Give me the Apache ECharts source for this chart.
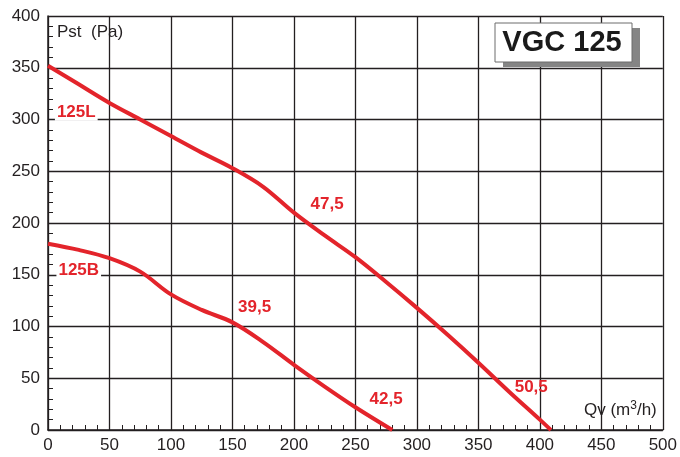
<!DOCTYPE html>
<html>
<head>
<meta charset="utf-8">
<script src="https://cdn.jsdelivr.net/npm/echarts@6/dist/echarts.min.js"></script>
<style>
  html, body { margin: 0; padding: 0; background: #fff; }
  #main { width: 680px; height: 457px; }
</style>
</head>
<body>
<div id="main"></div>
<script>
// curve 125L (flow m3/h, pressure Pa)
var qvL = [0, 25, 50, 75, 100, 125, 150, 175, 200, 225, 250, 275, 300, 325, 350, 375, 400, 409];
var pstL = [352, 334, 316, 300, 284, 268, 253, 235, 210, 188, 167, 143, 118, 92, 65, 37, 10, 0];
// curve 125B
var qvB = [0, 25, 50, 75, 100, 125, 150, 175, 200, 225, 250, 280];
var pstB = [180, 174, 166, 153, 131, 116, 104, 85, 63, 42, 22, 0];
// red annotations: [qv, pst, text, white backing]
var notes = [
  [23, 307, '125L', true],
  [25, 154, '125B', true],
  [227, 218, '47,5', false],
  [168, 119, '39,5', false],
  [275, 30, '42,5', false],
  [393, 41, '50,5', false]
];
var xTicks = [0, 500, 50];
var yTicks = [0, 400, 50];

var red = '#e3242b';
var ink = '#231f20';
var font = 'Liberation Sans, Arial, sans-serif';

function pairs(xs, ys) {
  return xs.map(function (x, i) { return [x, ys[i]]; });
}

var myChart = echarts.init(document.getElementById('main'));

var axisCommon = {
  type: 'value',
  axisLine: { show: true, lineStyle: { color: ink, width: 1.5 } },
  axisTick: { show: true, inside: true, length: 5, lineStyle: { color: ink } },
  minorTick: { show: true, splitNumber: 5, length: 5, lineStyle: { color: ink, width: 1 } },
  splitLine: { show: true, lineStyle: { color: ink, width: 1.3 } },
  axisLabel: { color: ink, fontSize: 17, fontFamily: font }
};

var option = {
  animation: false,
  grid: { left: 48, right: 15, top: 16, bottom: 27, containLabel: false },
  xAxis: Object.assign({}, axisCommon, {
    min: xTicks[0], max: xTicks[1], interval: xTicks[2],
    axisLabel: Object.assign({}, axisCommon.axisLabel, { margin: 7 })
  }),
  yAxis: Object.assign({}, axisCommon, {
    min: yTicks[0], max: yTicks[1], interval: yTicks[2],
    axisLabel: Object.assign({}, axisCommon.axisLabel, { margin: 8 })
  }),
  series: [
    {
      type: 'line', data: pairs(qvL, pstL), smooth: 0.35, symbol: 'none',
      lineStyle: { color: red, width: 4 }, z: 3
    },
    {
      type: 'line', data: pairs(qvB, pstB), smooth: 0.35, symbol: 'none',
      lineStyle: { color: red, width: 4 }, z: 3
    },
    {
      type: 'scatter', symbolSize: 0, z: 5,
      itemStyle: { opacity: 1 },
      data: notes.map(function (n) {
        return {
          value: [n[0], n[1]], name: n[2],
          label: { backgroundColor: n[3] ? '#fff' : 'transparent' }
        };
      }),
      label: {
        show: true, position: 'inside', opacity: 1,
        formatter: function (p) { return p.name; },
        color: red, fontWeight: 'bold', fontSize: 17,
        fontFamily: font, padding: [0, 2]
      }
    }
  ],
  graphic: [
    {
      type: 'text', left: 57, top: 24, z: 10,
      style: { text: 'Pst  (Pa)', fill: ink, fontSize: 17, fontFamily: font }
    },
    {
      type: 'text', left: 584, top: 400, z: 10,
      style: {
        text: '{a|Qv (m}{s|3}{a|/h)}',
        fill: ink, fontSize: 17, fontFamily: font,
        rich: {
          a: { fontSize: 17, fill: ink, fontFamily: font },
          s: { fontSize: 12, fill: ink, verticalAlign: 'top', padding: [0, 0, 8, 0], fontFamily: font }
        }
      }
    },
    {
      type: 'rect', z: 10,
      shape: { x: 503, y: 28, width: 137, height: 39 },
      style: { fill: '#858585' }
    },
    {
      type: 'rect', z: 11,
      shape: { x: 495, y: 23, width: 137, height: 39 },
      style: { fill: '#fff', stroke: '#6d6d6d', lineWidth: 1 }
    },
    {
      type: 'text', z: 12, x: 562, y: 43,
      style: {
        text: 'VGC 125', fill: '#1a1a1a', fontSize: 29, fontWeight: 'bold',
        fontFamily: font,
        align: 'center', verticalAlign: 'middle'
      }
    }
  ]
};

option && myChart.setOption(option);
</script>
</body>
</html>
